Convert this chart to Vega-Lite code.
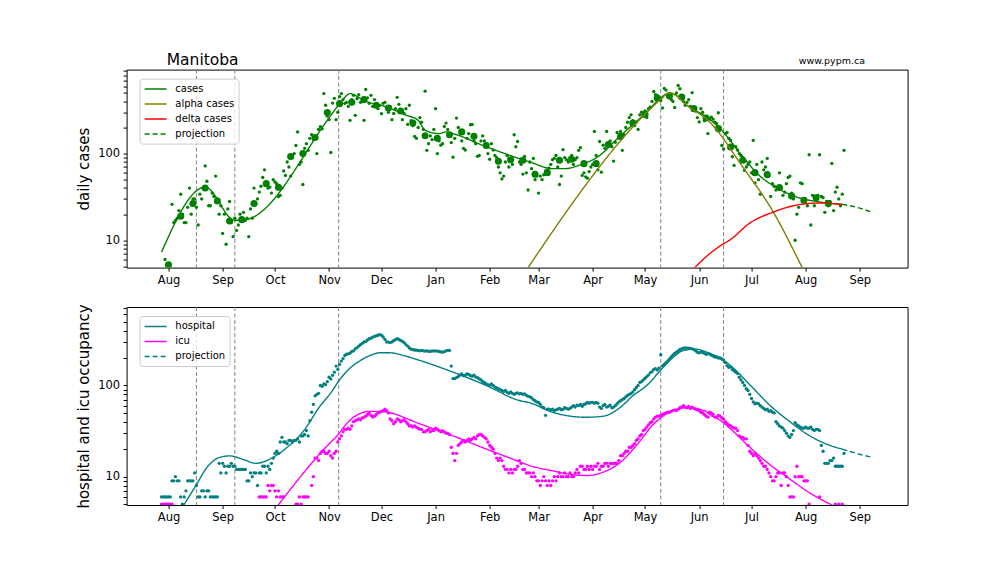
{
"$schema": "https://vega.github.io/schema/vega-lite/v6.json",
"background": "white",
"padding": {"left": 75.6, "top": 52.6, "right": 5, "bottom": 5},
"bounds": "flush",
"spacing": 39.4,
"config": {
  "font": "DejaVu Sans",
  "view": {"stroke": "#000", "strokeWidth": 1},
  "axis": {"domain": false, "grid": false, "labelFont": "DejaVu Sans", "labelFontSize": 11.5, "labelColor": "#000", "tickColor": "#000", "tickSize": 3.5, "labelPadding": 3.5, "titleFont": "DejaVu Sans", "titleFontSize": 15, "titleFontWeight": "normal", "titleColor": "#000"},
  "legend": {"title": null, "orient": "none", "legendX": 13, "legendY": 9, "strokeColor": "#cccccc", "fillColor": "rgba(255,255,255,0.8)", "cornerRadius": 3, "padding": 4, "symbolType": "M-1,0H3", "symbolSize": 121, "symbolStrokeWidth": 1.5, "labelFontSize": 10, "labelOffset": 18.7, "rowPadding": 3, "labelFont": "DejaVu Sans", "labelColor": "#000"}
},
"resolve": {"scale": {"color": "independent", "strokeDash": "independent", "y": "independent", "x": "independent"}, "legend": {"color": "independent", "strokeDash": "independent"}},
"datasets": {
"ev": [{"d":"2020-08-17"},{"d":"2020-09-08"},{"d":"2020-11-06T12:00:00Z"},{"d":"2021-05-10"},{"d":"2021-06-15"}],
"weekly": [
{"d":"2020-08-01","v":5.2},{"d":"2020-08-08","v":18.9},{"d":"2020-08-15","v":26.5},{"d":"2020-08-22","v":40},{"d":"2020-08-29","v":28.4},
{"d":"2020-09-05","v":16.7},{"d":"2020-09-12","v":17.3},{"d":"2020-09-19","v":26.5},{"d":"2020-09-26","v":45},{"d":"2020-10-03","v":40.8},
{"d":"2020-10-10","v":92.4},{"d":"2020-10-17","v":100},{"d":"2020-10-24","v":153},{"d":"2020-10-31","v":297},{"d":"2020-11-07","v":377},
{"d":"2020-11-14","v":391},{"d":"2020-11-21","v":420},{"d":"2020-11-28","v":361},{"d":"2020-12-05","v":336},{"d":"2020-12-12","v":310},
{"d":"2020-12-19","v":225},{"d":"2020-12-26","v":161},{"d":"2021-01-02","v":150},{"d":"2021-01-09","v":165},{"d":"2021-01-16","v":178},
{"d":"2021-01-23","v":158},{"d":"2021-01-30","v":124},{"d":"2021-02-06","v":81.5},{"d":"2021-02-13","v":85},{"d":"2021-02-20","v":83.7},
{"d":"2021-02-27","v":57.7},{"d":"2021-03-06","v":60.3},{"d":"2021-03-13","v":83.7},{"d":"2021-03-20","v":86},{"d":"2021-03-27","v":76.6},
{"d":"2021-04-03","v":76.6},{"d":"2021-04-10","v":127},{"d":"2021-04-17","v":158},{"d":"2021-04-24","v":225},{"d":"2021-05-01","v":284},
{"d":"2021-05-08","v":438},{"d":"2021-05-15","v":462},{"d":"2021-05-22","v":450},{"d":"2021-05-29","v":330},{"d":"2021-06-05","v":257},
{"d":"2021-06-12","v":194},{"d":"2021-06-19","v":119},{"d":"2021-06-26","v":83.7},{"d":"2021-07-03","v":60.3},{"d":"2021-07-10","v":57.2},
{"d":"2021-07-17","v":40.5},{"d":"2021-07-24","v":32.4},{"d":"2021-07-31","v":28.9},{"d":"2021-08-07","v":31},{"d":"2021-08-14","v":26.5}
],
"cm": [
{"s":"cases","d":"2020-07-28","v":7.3},{"s":"cases","d":"2020-08-22","v":41},{"s":"cases","d":"2020-09-08","v":17},{"s":"cases","d":"2020-09-14","v":17.3},
{"s":"cases","d":"2020-11-01","v":258},{"s":"cases","d":"2020-11-07","v":377},{"s":"cases","d":"2020-11-10","v":445},{"s":"cases","d":"2020-11-13","v":492},
{"s":"cases","d":"2020-11-16","v":470},{"s":"cases","d":"2020-11-20","v":420},{"s":"cases","d":"2020-12-04","v":344},{"s":"cases","d":"2020-12-15","v":278},
{"s":"cases","d":"2020-12-22","v":242},{"s":"cases","d":"2020-12-26","v":186},{"s":"cases","d":"2021-01-03","v":170},{"s":"cases","d":"2021-01-07","v":178},
{"s":"cases","d":"2021-01-11","v":170},{"s":"cases","d":"2021-01-30","v":120},{"s":"cases","d":"2021-02-24","v":80},{"s":"cases","d":"2021-03-09","v":67},
{"s":"cases","d":"2021-03-16","v":67},{"s":"cases","d":"2021-03-24","v":73},{"s":"cases","d":"2021-04-05","v":95},{"s":"cases","d":"2021-04-16","v":155},
{"s":"cases","d":"2021-05-02","v":302},{"s":"cases","d":"2021-05-10","v":440},{"s":"cases","d":"2021-05-15","v":500},{"s":"cases","d":"2021-05-18","v":480},
{"s":"cases","d":"2021-05-25","v":361},{"s":"cases","d":"2021-06-07","v":250},{"s":"cases","d":"2021-06-13","v":195},{"s":"cases","d":"2021-06-26","v":92},
{"s":"cases","d":"2021-07-05","v":57},{"s":"cases","d":"2021-07-14","v":42},{"s":"cases","d":"2021-07-26","v":32},{"s":"cases","d":"2021-08-09","v":27.7},
{"s":"cases","d":"2021-08-22","v":26},
{"s":"projection","d":"2021-08-22","v":26},{"s":"projection","d":"2021-09-01","v":23.5},{"s":"projection","d":"2021-09-08","v":21},
{"s":"alpha cases","d":"2021-02-17","v":3.2},{"s":"alpha cases","d":"2021-05-11","v":440},{"s":"alpha cases","d":"2021-05-14","v":495},{"s":"alpha cases","d":"2021-05-16","v":500},
{"s":"alpha cases","d":"2021-05-18","v":480},{"s":"alpha cases","d":"2021-05-25","v":361},{"s":"alpha cases","d":"2021-06-07","v":232},{"s":"alpha cases","d":"2021-06-26","v":70},
{"s":"alpha cases","d":"2021-07-13","v":22},{"s":"alpha cases","d":"2021-07-30","v":4.85},{"s":"alpha cases","d":"2021-08-06","v":2.5},
{"s":"delta cases","d":"2021-05-27","v":4.3},{"s":"delta cases","d":"2021-06-07","v":7},{"s":"delta cases","d":"2021-06-13","v":8.6},{"s":"delta cases","d":"2021-06-19","v":10.2},
{"s":"delta cases","d":"2021-06-30","v":15.8},{"s":"delta cases","d":"2021-07-13","v":21},{"s":"delta cases","d":"2021-07-27","v":25.5},{"s":"delta cases","d":"2021-08-09","v":26.9},
{"s":"delta cases","d":"2021-08-22","v":25.8}
],
"hm": [
{"s":"hospital","d":"2020-08-07","v":4.0},{"s":"hospital","d":"2020-08-16","v":7.6},{"s":"hospital","d":"2020-08-24","v":13.3},{"s":"hospital","d":"2020-08-30","v":16.2},
{"s":"hospital","d":"2020-09-05","v":16.9},{"s":"hospital","d":"2020-09-13","v":15.4},{"s":"hospital","d":"2020-09-20","v":14},{"s":"hospital","d":"2020-09-30","v":16.3},
{"s":"hospital","d":"2020-10-08","v":21},{"s":"hospital","d":"2020-10-17","v":31},{"s":"hospital","d":"2020-10-27","v":60},{"s":"hospital","d":"2020-11-02","v":83},
{"s":"hospital","d":"2020-11-07","v":115},{"s":"hospital","d":"2020-11-13","v":155},{"s":"hospital","d":"2020-11-19","v":188},{"s":"hospital","d":"2020-11-25","v":215},
{"s":"hospital","d":"2020-11-30","v":228},{"s":"hospital","d":"2020-12-06","v":228},{"s":"hospital","d":"2020-12-14","v":212},{"s":"hospital","d":"2020-12-23","v":188},
{"s":"hospital","d":"2021-01-11","v":140},{"s":"hospital","d":"2021-01-30","v":100},{"s":"hospital","d":"2021-02-18","v":68.4},{"s":"hospital","d":"2021-02-24","v":64.6},
{"s":"hospital","d":"2021-03-09","v":50.9},{"s":"hospital","d":"2021-03-28","v":44.8},{"s":"hospital","d":"2021-04-07","v":46},{"s":"hospital","d":"2021-04-17","v":57.8},
{"s":"hospital","d":"2021-04-24","v":77},{"s":"hospital","d":"2021-05-02","v":100},{"s":"hospital","d":"2021-05-11","v":155},{"s":"hospital","d":"2021-05-18","v":210},
{"s":"hospital","d":"2021-05-23","v":242},{"s":"hospital","d":"2021-05-30","v":250},{"s":"hospital","d":"2021-06-07","v":225},{"s":"hospital","d":"2021-06-13","v":200},
{"s":"hospital","d":"2021-06-19","v":165},{"s":"hospital","d":"2021-06-30","v":102},{"s":"hospital","d":"2021-07-11","v":62},{"s":"hospital","d":"2021-07-23","v":40},
{"s":"hospital","d":"2021-08-03","v":28.3},{"s":"hospital","d":"2021-08-15","v":22},{"s":"hospital","d":"2021-08-22","v":20},
{"s":"projection","d":"2021-08-22","v":20},{"s":"projection","d":"2021-08-31","v":17.8},{"s":"projection","d":"2021-09-08","v":16.3},
{"s":"icu","d":"2020-10-01","v":4.4},{"s":"icu","d":"2020-10-31","v":21.9},{"s":"icu","d":"2020-11-06","v":28.7},{"s":"icu","d":"2020-11-11","v":38},
{"s":"icu","d":"2020-11-15","v":44.8},{"s":"icu","d":"2020-11-19","v":49.5},{"s":"icu","d":"2020-11-23","v":51.8},{"s":"icu","d":"2020-11-29","v":52},
{"s":"icu","d":"2020-12-04","v":51},{"s":"icu","d":"2020-12-23","v":37.9},{"s":"icu","d":"2021-01-11","v":28},{"s":"icu","d":"2021-01-30","v":20.1},
{"s":"icu","d":"2021-02-18","v":14.6},{"s":"icu","d":"2021-02-24","v":13.2},{"s":"icu","d":"2021-03-09","v":11.6},{"s":"icu","d":"2021-03-19","v":10.6},
{"s":"icu","d":"2021-03-29","v":10.3},{"s":"icu","d":"2021-04-07","v":11.2},{"s":"icu","d":"2021-04-17","v":14.4},{"s":"icu","d":"2021-04-26","v":21.9},
{"s":"icu","d":"2021-05-06","v":37.9},{"s":"icu","d":"2021-05-15","v":50.9},{"s":"icu","d":"2021-05-25","v":56.9},{"s":"icu","d":"2021-06-04","v":53},
{"s":"icu","d":"2021-06-07","v":48},{"s":"icu","d":"2021-06-13","v":41.5},{"s":"icu","d":"2021-06-19","v":33.4},{"s":"icu","d":"2021-06-30","v":21},
{"s":"icu","d":"2021-07-11","v":13.8},{"s":"icu","d":"2021-07-23","v":9.4},{"s":"icu","d":"2021-08-03","v":6.7},{"s":"icu","d":"2021-08-15","v":5.0},
{"s":"icu","d":"2021-08-22","v":4.3}
],
"daily": [
{"d":"2020-07-28","h":6,"i":5},{"d":"2020-07-29","h":6,"i":5},{"d":"2020-07-30","c":6,"h":6,"i":5},{"d":"2020-07-31","h":6,"i":5},
{"d":"2020-08-01","h":6,"i":5},{"d":"2020-08-02","h":6,"i":5},{"d":"2020-08-03","c":26,"h":9,"i":5},{"d":"2020-08-04","c":16,"h":9},
{"d":"2020-08-05","c":17,"h":10},{"d":"2020-08-06","c":18,"h":9},{"d":"2020-08-07","c":22,"h":9},{"d":"2020-08-08","c":34,"h":6},
{"d":"2020-08-09","c":20,"h":5},{"d":"2020-08-10","c":16,"h":6},{"d":"2020-08-11","c":16,"h":7},{"d":"2020-08-12","c":24,"h":9},
{"d":"2020-08-13","c":40,"h":9},{"d":"2020-08-14","c":20,"h":9},{"d":"2020-08-15","c":30,"h":9},{"d":"2020-08-16","c":30,"h":11},
{"d":"2020-08-17","c":24,"h":8},{"d":"2020-08-18","c":15,"h":6},{"d":"2020-08-19","c":34,"h":6},{"d":"2020-08-20","c":30,"h":7},
{"d":"2020-08-21","c":40,"h":7},{"d":"2020-08-22","c":72,"h":6},{"d":"2020-08-23","c":48,"h":7},{"d":"2020-08-24","c":25,"h":7},
{"d":"2020-08-25","c":25,"h":6},{"d":"2020-08-26","c":35,"h":6},{"d":"2020-08-27","c":32,"h":6},{"d":"2020-08-28","c":55,"h":6},
{"d":"2020-08-29","c":30,"h":6},{"d":"2020-08-30","c":20,"h":14},{"d":"2020-08-31","c":25,"h":11},
{"d":"2020-09-01","c":12,"h":14},{"d":"2020-09-02","c":20,"h":13},{"d":"2020-09-03","c":9,"h":11},{"d":"2020-09-04","c":23,"h":13},
{"d":"2020-09-05","c":28,"h":13},{"d":"2020-09-06","c":16,"h":14},{"d":"2020-09-07","c":11,"h":13},{"d":"2020-09-08","c":18,"h":13},
{"d":"2020-09-09","c":13,"h":12},{"d":"2020-09-10","c":15,"h":12},{"d":"2020-09-11","c":20,"h":12},{"d":"2020-09-12","c":17,"h":12},
{"d":"2020-09-13","c":21,"h":12},{"d":"2020-09-14","c":17,"h":12},{"d":"2020-09-15","c":18,"h":9},{"d":"2020-09-16","c":11,"h":9},
{"d":"2020-09-17","c":23,"h":11},{"d":"2020-09-18","c":18,"h":10},{"d":"2020-09-19","c":40,"h":11},{"d":"2020-09-20","c":26,"h":11},
{"d":"2020-09-21","c":30,"h":8},{"d":"2020-09-22","c":36,"h":11,"i":6},{"d":"2020-09-23","c":42,"h":11,"i":6},{"d":"2020-09-24","c":53,"h":13,"i":6},
{"d":"2020-09-25","c":65,"h":13,"i":6},{"d":"2020-09-26","c":45,"h":11,"i":6},{"d":"2020-09-27","c":40,"h":13,"i":8},{"d":"2020-09-28","c":41,"h":12,"i":7},
{"d":"2020-09-29","c":35,"h":14,"i":8},{"d":"2020-09-30","c":50,"h":16,"i":8},
{"d":"2020-10-01","c":47,"h":18,"i":7},{"d":"2020-10-02","c":45,"h":19,"i":6},{"d":"2020-10-03","c":32,"h":18,"i":7},{"d":"2020-10-04","c":33,"h":24,"i":6},
{"d":"2020-10-05","c":40,"h":27,"i":6},{"d":"2020-10-06","c":63,"h":24,"i":6},{"d":"2020-10-07","c":56,"h":24},{"d":"2020-10-08","c":80,"h":23},
{"d":"2020-10-09","c":70,"h":25},{"d":"2020-10-10","c":55,"h":25},{"d":"2020-10-11","c":90,"h":24},{"d":"2020-10-12","c":100,"h":25},
{"d":"2020-10-13","c":124,"h":25,"i":5},{"d":"2020-10-14","c":178,"h":26,"i":5},{"d":"2020-10-15","c":75,"h":24,"i":6},{"d":"2020-10-16","c":80,"h":28,"i":5},
{"d":"2020-10-17","c":44,"h":28,"i":6},{"d":"2020-10-18","c":115,"h":29,"i":6},{"d":"2020-10-19","c":130,"h":32,"i":6},{"d":"2020-10-20","c":109,"h":28,"i":6},
{"d":"2020-10-21","c":150,"h":41},{"d":"2020-10-22","c":165,"h":51,"i":8},{"d":"2020-10-23","c":145,"h":62,"i":10},{"d":"2020-10-24","c":150,"h":77,"i":16},
{"d":"2020-10-25","c":100,"h":80,"i":16},{"d":"2020-10-26","c":190,"h":82,"i":15},{"d":"2020-10-27","c":205,"h":100,"i":18},{"d":"2020-10-28","c":193,"h":98,"i":19},
{"d":"2020-10-29","c":492,"h":104,"i":19},{"d":"2020-10-30","c":361,"h":102,"i":18},{"d":"2020-10-31","c":270,"h":110,"i":18},
{"d":"2020-11-01","c":247,"h":123,"i":19},{"d":"2020-11-02","c":103,"h":118,"i":17},{"d":"2020-11-03","c":383,"h":129,"i":16},{"d":"2020-11-04","c":434,"h":140,"i":18},
{"d":"2020-11-05","c":246,"h":163,"i":19},{"d":"2020-11-06","c":300,"h":150,"i":24},{"d":"2020-11-07","c":455,"h":170,"i":26},{"d":"2020-11-08","c":492,"h":185,"i":28},
{"d":"2020-11-09","c":420,"h":197,"i":31},{"d":"2020-11-10","c":380,"h":213,"i":33},{"d":"2020-11-11","c":390,"h":220,"i":33},{"d":"2020-11-12","c":350,"h":222,"i":34},
{"d":"2020-11-13","c":242,"h":226,"i":33},{"d":"2020-11-14","c":420,"h":236,"i":36},{"d":"2020-11-15","c":470,"h":240,"i":40},{"d":"2020-11-16","c":276,"h":252,"i":41},
{"d":"2020-11-17","c":430,"h":260,"i":42},{"d":"2020-11-18","c":480,"h":270,"i":43},{"d":"2020-11-19","c":390,"h":280,"i":42},{"d":"2020-11-20","c":400,"h":290,"i":44},
{"d":"2020-11-21","c":242,"h":300,"i":45},{"d":"2020-11-22","c":550,"h":303,"i":46},{"d":"2020-11-23","c":440,"h":315,"i":48},{"d":"2020-11-24","c":380,"h":325,"i":50},
{"d":"2020-11-25","c":470,"h":330,"i":47},{"d":"2020-11-26","c":350,"h":339,"i":45},{"d":"2020-11-27","c":420,"h":345,"i":46},{"d":"2020-11-28","c":370,"h":350,"i":48},
{"d":"2020-11-29","c":330,"h":355,"i":50},{"d":"2020-11-30","c":360,"h":361,"i":51},
{"d":"2020-12-01","c":289,"h":355,"i":52},{"d":"2020-12-02","c":380,"h":340,"i":53},{"d":"2020-12-03","c":390,"h":320,"i":55},{"d":"2020-12-04","c":340,"h":300,"i":53},
{"d":"2020-12-05","c":300,"h":299,"i":50},{"d":"2020-12-06","c":350,"h":295,"i":43},{"d":"2020-12-07","c":246,"h":300,"i":41},{"d":"2020-12-08","c":290,"h":310,"i":38},
{"d":"2020-12-09","c":330,"h":318,"i":40},{"d":"2020-12-10","c":446,"h":326,"i":43},{"d":"2020-12-11","c":370,"h":320,"i":42},{"d":"2020-12-12","c":300,"h":312,"i":40},
{"d":"2020-12-13","c":246,"h":305,"i":41},{"d":"2020-12-14","c":290,"h":295,"i":42},{"d":"2020-12-15","c":330,"h":281,"i":40},{"d":"2020-12-16","c":217,"h":270,"i":38},
{"d":"2020-12-17","c":361,"h":258,"i":36},{"d":"2020-12-18","c":240,"h":250,"i":36},{"d":"2020-12-19","c":210,"h":247,"i":35},{"d":"2020-12-20","c":158,"h":245,"i":36},
{"d":"2020-12-21","c":150,"h":244,"i":35},{"d":"2020-12-22","c":200,"h":242,"i":34},{"d":"2020-12-23","c":260,"h":240,"i":33},{"d":"2020-12-24","c":230,"h":242,"i":33},
{"d":"2020-12-25","c":190,"h":240,"i":31},{"d":"2020-12-26","c":525,"h":238,"i":31},{"d":"2020-12-27","c":109,"h":240,"i":32},{"d":"2020-12-28","c":130,"h":237,"i":33},
{"d":"2020-12-29","c":160,"h":236,"i":31},{"d":"2020-12-30","c":145,"h":240,"i":32},{"d":"2020-12-31","c":190,"h":238,"i":32},
{"d":"2021-01-01","c":330,"h":240,"i":34},{"d":"2021-01-02","c":100,"h":238,"i":33},{"d":"2021-01-03","c":140,"h":236,"i":32},{"d":"2021-01-04","c":125,"h":233,"i":31},
{"d":"2021-01-05","c":130,"h":232,"i":32},{"d":"2021-01-06","c":206,"h":235,"i":31},{"d":"2021-01-07","c":225,"h":240,"i":30},{"d":"2021-01-08","c":190,"h":243,"i":30},
{"d":"2021-01-09","c":160,"h":242,"i":29},{"d":"2021-01-10","c":134,"h":163,"i":21},{"d":"2021-01-11","c":91,"h":119,"i":18},{"d":"2021-01-12","c":150,"h":119,"i":15},
{"d":"2021-01-13","c":257,"h":122,"i":18},{"d":"2021-01-14","c":200,"h":125,"i":22},{"d":"2021-01-15","c":175,"h":130,"i":23},{"d":"2021-01-16","c":140,"h":134,"i":24},
{"d":"2021-01-17","c":115,"h":128,"i":25},{"d":"2021-01-18","c":110,"h":130,"i":24},{"d":"2021-01-19","c":150,"h":134,"i":25},{"d":"2021-01-20","c":170,"h":132,"i":26},
{"d":"2021-01-21","c":215,"h":128,"i":25},{"d":"2021-01-22","c":217,"h":126,"i":26},{"d":"2021-01-23","c":140,"h":130,"i":27},{"d":"2021-01-24","c":130,"h":124,"i":26},
{"d":"2021-01-25","c":93,"h":122,"i":28},{"d":"2021-01-26","c":95,"h":118,"i":29},{"d":"2021-01-27","c":140,"h":115,"i":29},{"d":"2021-01-28","c":160,"h":110,"i":28},
{"d":"2021-01-29","c":140,"h":108,"i":27},{"d":"2021-01-30","c":120,"h":104,"i":26},{"d":"2021-01-31","c":100,"h":102,"i":24},
{"d":"2021-02-01","c":86,"h":100,"i":22},{"d":"2021-02-02","c":130,"h":104,"i":21},{"d":"2021-02-03","c":110,"h":100,"i":20},{"d":"2021-02-04","c":95,"h":96,"i":18},
{"d":"2021-02-05","c":90,"h":94,"i":16},{"d":"2021-02-06","c":70,"h":92,"i":15},{"d":"2021-02-07","c":60,"h":90,"i":16},{"d":"2021-02-08","c":51,"h":88,"i":15},
{"d":"2021-02-09","c":55,"h":86,"i":13},{"d":"2021-02-10","c":80,"h":88,"i":12},{"d":"2021-02-11","c":95,"h":84,"i":12},{"d":"2021-02-12","c":70,"h":82,"i":11},
{"d":"2021-02-13","c":85,"h":85,"i":12},{"d":"2021-02-14","c":75,"h":82,"i":11},{"d":"2021-02-15","c":165,"h":80,"i":12},{"d":"2021-02-16","c":120,"h":82,"i":12},
{"d":"2021-02-17","c":138,"h":83,"i":13},{"d":"2021-02-18","c":80,"h":81,"i":15},{"d":"2021-02-19","c":75,"h":82,"i":14},{"d":"2021-02-20","c":58,"h":80,"i":12},
{"d":"2021-02-21","c":93,"h":81,"i":12},{"d":"2021-02-22","c":60,"h":78,"i":11},{"d":"2021-02-23","c":38,"h":76,"i":11},{"d":"2021-02-24","c":80,"h":75,"i":11},
{"d":"2021-02-25","c":67,"h":73,"i":10},{"d":"2021-02-26","c":88,"h":70,"i":11},{"d":"2021-02-27","c":50,"h":68,"i":10},{"d":"2021-02-28","c":55,"h":66,"i":9},
{"d":"2021-03-01","c":35,"h":65,"i":9},{"d":"2021-03-02","c":55,"h":62,"i":8},{"d":"2021-03-03","c":50,"h":58,"i":9},{"d":"2021-03-04","c":57,"h":57,"i":10},
{"d":"2021-03-05","c":63,"h":47,"i":9},{"d":"2021-03-06","c":60,"h":55,"i":8},{"d":"2021-03-07","c":68,"h":55,"i":9},{"d":"2021-03-08","c":75,"h":54,"i":8},
{"d":"2021-03-09","c":85,"h":55,"i":9},{"d":"2021-03-10","c":88,"h":53,"i":10},{"d":"2021-03-11","c":95,"h":54,"i":9},{"d":"2021-03-12","c":70,"h":55,"i":10},
{"d":"2021-03-13","c":44,"h":56,"i":11},{"d":"2021-03-14","c":55,"h":54,"i":10},{"d":"2021-03-15","c":111,"h":55,"i":10},{"d":"2021-03-16","c":90,"h":57,"i":11},
{"d":"2021-03-17","c":85,"h":56,"i":10},{"d":"2021-03-18","c":80,"h":55,"i":10},{"d":"2021-03-19","c":90,"h":56,"i":11},{"d":"2021-03-20","c":95,"h":58,"i":10},
{"d":"2021-03-21","c":75,"h":60,"i":10},{"d":"2021-03-22","c":85,"h":58,"i":11},{"d":"2021-03-23","c":90,"h":61,"i":12},{"d":"2021-03-24","c":109,"h":60,"i":11},
{"d":"2021-03-25","c":117,"h":62,"i":13},{"d":"2021-03-26","c":56,"h":59,"i":13},{"d":"2021-03-27","c":60,"h":62,"i":12},{"d":"2021-03-28","c":54,"h":63,"i":12},
{"d":"2021-03-29","c":52,"h":65,"i":13},{"d":"2021-03-30","c":62,"h":64,"i":12},{"d":"2021-03-31","c":70,"h":65,"i":13},
{"d":"2021-04-01","c":75,"h":65,"i":12},{"d":"2021-04-02","c":180,"h":64,"i":13},{"d":"2021-04-03","c":95,"h":65,"i":13},{"d":"2021-04-04","c":65,"h":64,"i":14},
{"d":"2021-04-05","c":138,"h":58,"i":12},{"d":"2021-04-06","c":61,"h":56,"i":13},{"d":"2021-04-07","c":125,"h":60,"i":13},{"d":"2021-04-08","c":115,"h":62,"i":14},
{"d":"2021-04-09","c":180,"h":58,"i":14},{"d":"2021-04-10","c":130,"h":59,"i":13},{"d":"2021-04-11","c":140,"h":61,"i":14},{"d":"2021-04-12","c":120,"h":57,"i":14},
{"d":"2021-04-13","c":82,"h":58,"i":14},{"d":"2021-04-14","c":135,"h":60,"i":14},{"d":"2021-04-15","c":175,"h":63,"i":14},{"d":"2021-04-16","c":150,"h":66,"i":15},
{"d":"2021-04-17","c":180,"h":68,"i":17},{"d":"2021-04-18","c":109,"h":70,"i":17},{"d":"2021-04-19","c":165,"h":72,"i":18},{"d":"2021-04-20","c":200,"h":75,"i":19},
{"d":"2021-04-21","c":230,"h":78,"i":19},{"d":"2021-04-22","c":260,"h":80,"i":21},{"d":"2021-04-23","c":280,"h":82,"i":21},{"d":"2021-04-24","c":240,"h":85,"i":22},
{"d":"2021-04-25","c":210,"h":90,"i":23},{"d":"2021-04-26","c":230,"h":95,"i":25},{"d":"2021-04-27","c":190,"h":100,"i":26},{"d":"2021-04-28","c":280,"h":108,"i":28},
{"d":"2021-04-29","c":300,"h":110,"i":29},{"d":"2021-04-30","c":270,"h":115,"i":32},
{"d":"2021-05-01","c":310,"h":120,"i":33},{"d":"2021-05-02","c":260,"h":125,"i":35},{"d":"2021-05-03","c":330,"h":130,"i":37},{"d":"2021-05-04","c":344,"h":138,"i":39},
{"d":"2021-05-05","c":400,"h":142,"i":40},{"d":"2021-05-06","c":520,"h":150,"i":43},{"d":"2021-05-07","c":480,"h":153,"i":45},{"d":"2021-05-08","c":470,"h":148,"i":46},
{"d":"2021-05-09","c":440,"h":155,"i":46},{"d":"2021-05-10","c":410,"h":217,"i":47},{"d":"2021-05-11","c":336,"h":164,"i":48},{"d":"2021-05-12","c":565,"h":170,"i":49},
{"d":"2021-05-13","c":540,"h":178,"i":50},{"d":"2021-05-14","c":480,"h":186,"i":51},{"d":"2021-05-15","c":460,"h":195,"i":51},{"d":"2021-05-16","c":420,"h":205,"i":52},
{"d":"2021-05-17","c":400,"h":215,"i":53},{"d":"2021-05-18","c":340,"h":225,"i":54},{"d":"2021-05-19","c":500,"h":232,"i":53},{"d":"2021-05-20","c":610,"h":240,"i":55},
{"d":"2021-05-21","c":560,"h":248,"i":57},{"d":"2021-05-22","c":450,"h":252,"i":58},{"d":"2021-05-23","c":400,"h":257,"i":60},{"d":"2021-05-24","c":360,"h":258,"i":58},
{"d":"2021-05-25","c":390,"h":256,"i":57},{"d":"2021-05-26","c":420,"h":257,"i":59},{"d":"2021-05-27","c":350,"h":255,"i":56},{"d":"2021-05-28","c":505,"h":252,"i":58},
{"d":"2021-05-29","c":320,"h":248,"i":56},{"d":"2021-05-30","c":310,"h":240,"i":55},{"d":"2021-05-31","c":260,"h":232,"i":54},
{"d":"2021-06-01","c":232,"h":228,"i":53},{"d":"2021-06-02","c":330,"h":232,"i":51},{"d":"2021-06-03","c":300,"h":230,"i":50},{"d":"2021-06-04","c":240,"h":225,"i":48},
{"d":"2021-06-05","c":260,"h":220,"i":46},{"d":"2021-06-06","c":170,"h":222,"i":45},{"d":"2021-06-07","c":250,"h":222,"i":51},{"d":"2021-06-08","c":264,"h":215,"i":50},
{"d":"2021-06-09","c":250,"h":210,"i":48},{"d":"2021-06-10","c":230,"h":205,"i":45},{"d":"2021-06-11","c":222,"h":205,"i":45},{"d":"2021-06-12","c":296,"h":200,"i":47},
{"d":"2021-06-13","c":200,"h":200,"i":46},{"d":"2021-06-14","c":124,"h":195,"i":44},{"d":"2021-06-15","c":113,"h":190,"i":43},{"d":"2021-06-16","c":170,"h":178,"i":40},
{"d":"2021-06-17","c":175,"h":165,"i":38},{"d":"2021-06-18","c":150,"h":158,"i":37},{"d":"2021-06-19","c":142,"h":160,"i":36},{"d":"2021-06-20","c":92,"h":150,"i":35},
{"d":"2021-06-21","c":73,"h":145,"i":34},{"d":"2021-06-22","c":120,"h":140,"i":34},{"d":"2021-06-23","c":110,"h":135,"i":32},{"d":"2021-06-24","c":100,"h":123,"i":28},
{"d":"2021-06-25","c":95,"h":115,"i":27},{"d":"2021-06-26","c":90,"h":108,"i":27},{"d":"2021-06-27","c":64,"h":100,"i":26},{"d":"2021-06-28","c":70,"h":92,"i":26},
{"d":"2021-06-29","c":75,"h":88,"i":22},{"d":"2021-06-30","c":80,"h":80,"i":19},
{"d":"2021-07-01","c":60,"h":72,"i":18},{"d":"2021-07-02","c":142,"h":66,"i":17},{"d":"2021-07-03","c":46,"h":63,"i":18},{"d":"2021-07-04","c":75,"h":64,"i":17},
{"d":"2021-07-05","c":50,"h":63,"i":16},{"d":"2021-07-06","c":34,"h":60,"i":15},{"d":"2021-07-07","c":80,"h":58,"i":14},{"d":"2021-07-08","c":65,"h":56,"i":13},
{"d":"2021-07-09","c":70,"h":54,"i":13},{"d":"2021-07-10","c":88,"h":55,"i":12},{"d":"2021-07-11","c":55,"h":52,"i":11},{"d":"2021-07-12","c":32,"h":53,"i":10},
{"d":"2021-07-13","c":45,"h":51,"i":9},{"d":"2021-07-14","c":42,"h":50,"i":9},{"d":"2021-07-15","c":38,"h":40,"i":10},{"d":"2021-07-16","c":40,"h":38,"i":11},
{"d":"2021-07-17","c":60,"h":36,"i":11},{"d":"2021-07-18","c":40,"h":35,"i":8},{"d":"2021-07-19","c":33,"h":34,"i":11},{"d":"2021-07-20","c":36,"h":32,"i":11},
{"d":"2021-07-21","c":45,"h":30,"i":10},{"d":"2021-07-22","c":53,"h":28,"i":8},{"d":"2021-07-23","c":55,"h":27,"i":6},{"d":"2021-07-24","c":35,"h":29,"i":6},
{"d":"2021-07-25","c":30,"h":32,"i":6},{"d":"2021-07-26","c":10,"h":39,"i":10},{"d":"2021-07-27","c":20,"h":37,"i":13},{"d":"2021-07-28","c":24,"h":36,"i":10},
{"d":"2021-07-29","c":46,"h":35,"i":10},{"d":"2021-07-30","c":45,"h":34,"i":10},{"d":"2021-07-31","c":28,"h":34,"i":9},
{"d":"2021-08-01","c":30,"h":35,"i":9},{"d":"2021-08-02","c":25,"h":34,"i":9},{"d":"2021-08-03","c":97,"h":34,"i":5},{"d":"2021-08-04","c":15,"h":35},
{"d":"2021-08-05","c":33,"h":33},{"d":"2021-08-06","c":25,"h":32},{"d":"2021-08-07","c":32,"h":33},{"d":"2021-08-08","c":33,"h":33},
{"d":"2021-08-09","c":97,"h":32,"i":6},{"d":"2021-08-10","c":32,"h":22},{"d":"2021-08-11","c":31,"h":19},{"d":"2021-08-12","c":21,"h":14},
{"d":"2021-08-13","c":28,"h":14},{"d":"2021-08-14","c":25,"h":14},{"d":"2021-08-15","c":28,"h":15},{"d":"2021-08-16","c":77,"h":15},
{"d":"2021-08-17","c":22,"h":16},{"d":"2021-08-18","c":36,"h":13,"i":5},{"d":"2021-08-19","c":41,"h":13},{"d":"2021-08-20","c":30,"h":13,"i":5},
{"d":"2021-08-21","c":25,"h":13},{"d":"2021-08-22","c":34,"h":13,"i":5},{"d":"2021-08-23","c":109,"h":18}
]
},
"vconcat": [
{
  "width": 781, "height": 198,
  "encoding": {"x": {"field": "d", "type": "temporal", "scale": {"type": "utc", "domain": [{"year": 2020, "month": 7, "date": 8, "utc": true}, {"year": 2021, "month": 9, "date": 28, "hours": 10, "utc": true}]},
    "axis": {"title": null, "labelExpr": "utcFormat(datum.value, '%b')", "labelOverlap": false, "labelFlush": false,
      "values": [{"year":2020,"month":8,"date":1,"utc":true},{"year":2020,"month":9,"date":1,"utc":true},{"year":2020,"month":10,"date":1,"utc":true},{"year":2020,"month":11,"date":1,"utc":true},{"year":2020,"month":12,"date":1,"utc":true},{"year":2021,"month":1,"date":1,"utc":true},{"year":2021,"month":2,"date":1,"utc":true},{"year":2021,"month":3,"date":1,"utc":true},{"year":2021,"month":4,"date":1,"utc":true},{"year":2021,"month":5,"date":1,"utc":true},{"year":2021,"month":6,"date":1,"utc":true},{"year":2021,"month":7,"date":1,"utc":true},{"year":2021,"month":8,"date":1,"utc":true},{"year":2021,"month":9,"date":1,"utc":true}]}}},
  "layer": [
    {"data": {"name": "ev"}, "mark": {"type": "rule", "color": "#7f7f7f", "strokeDash": [4, 2.5], "strokeWidth": 1}, "encoding": {}},
    {"data": {"name": "daily"}, "mark": {"type": "circle", "clip": true, "size": 11, "color": "#008000", "opacity": 1},
     "encoding": {"y": {"field": "c", "type": "quantitative", "title": "daily cases", "scale": {"type": "log", "domain": [4.84, 931], "nice": false},
       "axis": {"values": [5,6,7,8,9,10,20,30,40,50,60,70,80,90,100,200,300,400,500,600,700,800,900], "labelExpr": "datum.value == 10 || datum.value == 100 ? '' + datum.value : ''", "titlePadding": 6, "labelOverlap": false}}}},
    {"data": {"name": "weekly"}, "mark": {"type": "circle", "clip": true, "size": 50, "color": "#008000", "opacity": 1},
     "encoding": {"y": {"field": "v", "type": "quantitative", "title": "daily cases", "scale": {"type": "log", "domain": [4.84, 931], "nice": false}}}},
    {"data": {"name": "cm"}, "mark": {"type": "line", "clip": true, "strokeWidth": 1.4, "interpolate": "monotone"},
     "encoding": {"y": {"field": "v", "type": "quantitative", "title": "daily cases", "scale": {"type": "log", "domain": [4.84, 931], "nice": false}},
       "color": {"field": "s", "type": "nominal", "scale": {"domain": ["cases", "alpha cases", "delta cases", "projection"], "range": ["#008000", "#808000", "#ff0000", "#008000"]}, "legend": {"title": null}},
       "strokeDash": {"field": "s", "type": "nominal", "scale": {"domain": ["cases", "alpha cases", "delta cases", "projection"], "range": [[1, 0], [1, 0], [1, 0], [5, 3]]}, "legend": {"title": null}}}},
    {"data": {"values": [{"d": "2020-07-31", "v": 1043, "t": "Manitoba"}]}, "mark": {"type": "text", "align": "left", "baseline": "alphabetic", "fontSize": 15.5, "font": "DejaVu Sans", "color": "#000"},
     "encoding": {"y": {"field": "v", "type": "quantitative", "title": "daily cases", "scale": {"type": "log", "domain": [4.84, 931], "nice": false}}, "text": {"field": "t"}}},
    {"data": {"values": [{"d": "2021-08-16", "v": 1070, "t": "www.pypm.ca"}]}, "mark": {"type": "text", "align": "center", "baseline": "alphabetic", "fontSize": 9.5, "font": "DejaVu Sans", "color": "#000"},
     "encoding": {"y": {"field": "v", "type": "quantitative", "title": "daily cases", "scale": {"type": "log", "domain": [4.84, 931], "nice": false}}, "text": {"field": "t"}}}
  ]
},
{
  "width": 781, "height": 198,
  "encoding": {"x": {"field": "d", "type": "temporal", "scale": {"type": "utc", "domain": [{"year": 2020, "month": 7, "date": 8, "utc": true}, {"year": 2021, "month": 9, "date": 28, "hours": 10, "utc": true}]},
    "axis": {"title": null, "labelExpr": "utcFormat(datum.value, '%b')", "labelOverlap": false, "labelFlush": false,
      "values": [{"year":2020,"month":8,"date":1,"utc":true},{"year":2020,"month":9,"date":1,"utc":true},{"year":2020,"month":10,"date":1,"utc":true},{"year":2020,"month":11,"date":1,"utc":true},{"year":2020,"month":12,"date":1,"utc":true},{"year":2021,"month":1,"date":1,"utc":true},{"year":2021,"month":2,"date":1,"utc":true},{"year":2021,"month":3,"date":1,"utc":true},{"year":2021,"month":4,"date":1,"utc":true},{"year":2021,"month":5,"date":1,"utc":true},{"year":2021,"month":6,"date":1,"utc":true},{"year":2021,"month":7,"date":1,"utc":true},{"year":2021,"month":8,"date":1,"utc":true},{"year":2021,"month":9,"date":1,"utc":true}]}}},
  "layer": [
    {"data": {"name": "ev"}, "mark": {"type": "rule", "color": "#7f7f7f", "strokeDash": [4, 2.5], "strokeWidth": 1}, "encoding": {}},
    {"data": {"name": "daily"}, "mark": {"type": "circle", "clip": true, "size": 11, "color": "#008080", "opacity": 1},
     "encoding": {"y": {"field": "h", "type": "quantitative", "title": "hospital and icu occupancy", "scale": {"type": "log", "domain": [4.89, 725], "nice": false},
       "axis": {"values": [5,6,7,8,9,10,20,30,40,50,60,70,80,90,100,200,300,400,500,600,700], "labelExpr": "datum.value == 10 || datum.value == 100 ? '' + datum.value : ''", "titlePadding": 6, "labelOverlap": false}}}},
    {"data": {"name": "daily"}, "mark": {"type": "circle", "clip": true, "size": 11, "color": "#ff00ff", "opacity": 1},
     "encoding": {"y": {"field": "i", "type": "quantitative", "title": "hospital and icu occupancy", "scale": {"type": "log", "domain": [4.89, 725], "nice": false}}}},
    {"data": {"name": "hm"}, "mark": {"type": "line", "clip": true, "strokeWidth": 1.4, "interpolate": "monotone"},
     "encoding": {"y": {"field": "v", "type": "quantitative", "title": "hospital and icu occupancy", "scale": {"type": "log", "domain": [4.89, 725], "nice": false}},
       "color": {"field": "s", "type": "nominal", "scale": {"domain": ["hospital", "icu", "projection"], "range": ["#008080", "#ff00ff", "#008080"]}, "legend": {"title": null}},
       "strokeDash": {"field": "s", "type": "nominal", "scale": {"domain": ["hospital", "icu", "projection"], "range": [[1, 0], [1, 0], [5, 3]]}, "legend": {"title": null}}}}
  ]
}
]
}
